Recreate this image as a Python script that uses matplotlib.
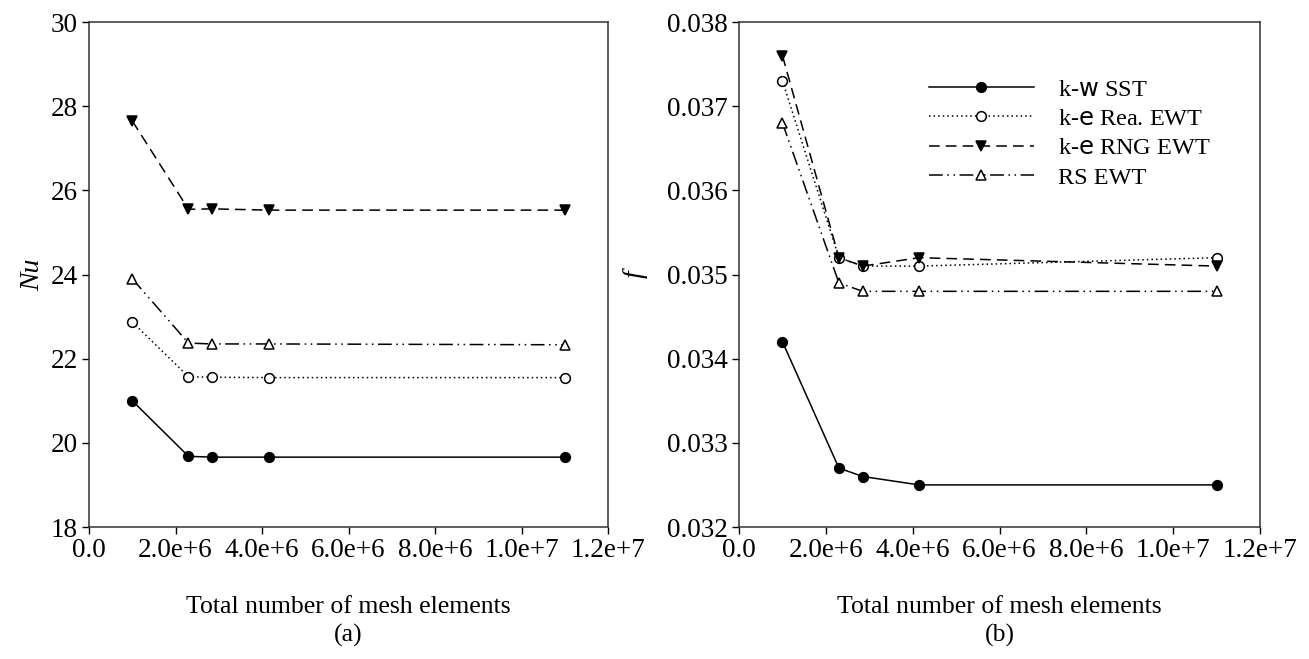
import numpy as np
import matplotlib.pyplot as plt
from matplotlib.ticker import FixedLocator, FixedFormatter

# -----------------------------
# Data
# -----------------------------
mesh = [1.0e6, 2.3e6, 2.85e6, 4.15e6, 1.1e7]

nu_sst = [21.0, 19.68, 19.66, 19.66, 19.66]
nu_rea = [22.87, 21.57, 21.56, 21.55, 21.55]
nu_rng = [27.65, 25.55, 25.56, 25.53, 25.53]
nu_rs = [23.9, 22.37, 22.35, 22.35, 22.33]

f_sst = [0.0342, 0.0327, 0.0326, 0.0325, 0.0325]
f_rea = [0.0373, 0.0352, 0.0351, 0.0351, 0.0352]
f_rng = [0.0376, 0.0352, 0.0351, 0.0352, 0.0351]
f_rs = [0.0368, 0.0349, 0.0348, 0.0348, 0.0348]

labels = [r"k-$\mathsf{w}$ SST", r"k-$\mathsf{e}$ Rea. EWT",
          r"k-$\mathsf{e}$ RNG EWT", "RS EWT"]

x_ticks = [0, 2e6, 4e6, 6e6, 8e6, 1e7, 1.2e7]
x_ticklabels = ["0.0", "2.0e+6", "4.0e+6", "6.0e+6", "8.0e+6", "1.0e+7", "1.2e+7"]
nu_ticks = [18, 20, 22, 24, 26, 28, 30]
f_ticks = [0.032, 0.033, 0.034, 0.035, 0.036, 0.037, 0.038]

plt.rcParams["font.family"] = ["Liberation Serif", "DejaVu Serif"]
plt.rcParams["mathtext.fontset"] = "dejavusans"

styles = [
    dict(linestyle="-", marker="o", mfc="black"),
    dict(linestyle=(0, (1, 2)), marker="o", mfc="white"),
    dict(linestyle=(0, (7, 4)), marker="v", mfc="black"),
    dict(linestyle=(0, (9, 3, 1, 3, 1, 3)), marker="^", mfc="white"),
]


def style_axes(ax, yticks, ylabels):
    ax.set_xlim(0, 1.2e7)
    ax.set_ylim(yticks[0], yticks[-1])
    ax.xaxis.set_major_locator(FixedLocator(x_ticks))
    ax.xaxis.set_major_formatter(FixedFormatter(x_ticklabels))
    ax.yaxis.set_major_locator(FixedLocator(yticks))
    ax.yaxis.set_major_formatter(FixedFormatter(ylabels))
    ax.tick_params(direction="out", length=5, width=1.0, labelsize=19.5,
                   top=False, right=False, pad=3)
    for sp in ax.spines.values():
        sp.set_linewidth(1.1)
        sp.set_color("#333333")


fig = plt.figure(figsize=(13.09, 6.59), dpi=100)
ax1 = fig.add_axes([0.068, 0.2003, 0.3965, 0.7663])
ax2 = fig.add_axes([0.5646, 0.2003, 0.398, 0.7663])

for ys, st in zip([nu_sst, nu_rea, nu_rng, nu_rs], styles):
    ax1.plot(mesh, ys, color="black", lw=1.1, ms=7, mec="black", mew=1.1, **st)

lines = []
for ys, st, lab in zip([f_sst, f_rea, f_rng, f_rs], styles, labels):
    ln, = ax2.plot(mesh, ys, color="black", lw=1.1, ms=7, mec="black", mew=1.1,
                   label=lab, **st)
    lines.append(ln)

style_axes(ax1, nu_ticks, [str(v) for v in nu_ticks])
style_axes(ax2, f_ticks, [f"{v:.3f}" for v in f_ticks])

ax1.set_ylabel("Nu", fontsize=20, style="italic", labelpad=4)
ax2.set_ylabel("f", fontsize=20, style="italic", labelpad=14)
ax1.set_xlabel("Total number of mesh elements\n(a)", fontsize=18.5,
               labelpad=24, linespacing=1.3)
ax2.set_xlabel("Total number of mesh elements\n(b)", fontsize=18.5,
               labelpad=24, linespacing=1.3)

ax2.legend(handles=lines, loc="upper left", bbox_to_anchor=(0.365, 0.888),
           frameon=False, fontsize=17.5, handlelength=4.3, handletextpad=1.0,
           labelspacing=0.3, borderpad=0, borderaxespad=0)

fig.savefig("out.png", dpi=100)
